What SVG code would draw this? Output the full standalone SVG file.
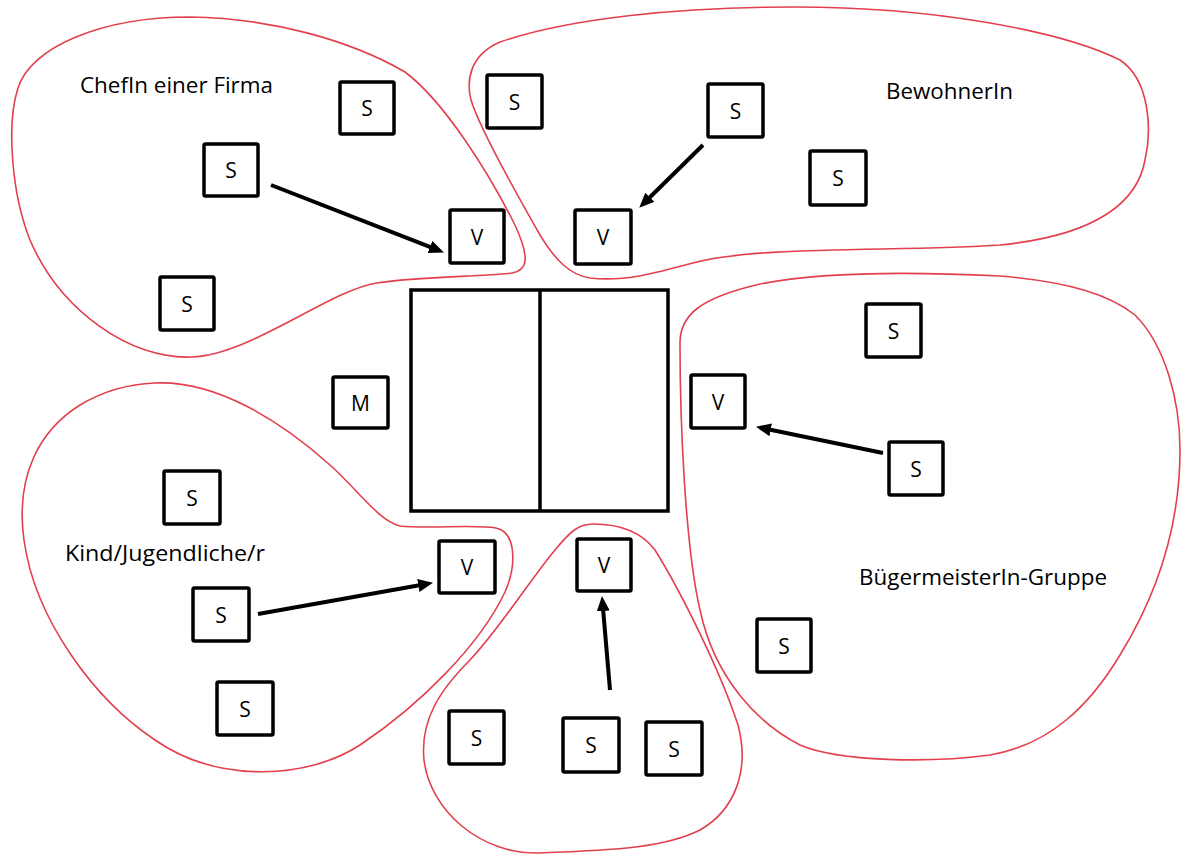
<svg xmlns="http://www.w3.org/2000/svg" width="1182" height="854" viewBox="0 0 1182 854">
<style>
.blob{fill:none;stroke:#e2404e;stroke-width:1.6}
.box{fill:#fff;stroke:#000;stroke-width:3.5}
.lbl{font-family:"Open Sans","Noto Sans","Liberation Sans",sans-serif;font-size:21.5px;fill:#000}
.bt{font-family:"Open Sans","Noto Sans","Liberation Sans",sans-serif;font-size:21px;fill:#000;text-anchor:middle;dominant-baseline:central}
.arr{stroke:#000;stroke-width:4;fill:none;marker-end:url(#ah)}
</style>
<defs>
<marker id="ah" markerUnits="userSpaceOnUse" markerWidth="16" markerHeight="14" refX="4" refY="6.5" orient="auto">
<path d="M0,0 L15,6.5 L0,13 z" fill="#000"/>
</marker>
</defs>
<rect width="1182" height="854" fill="#fff"/>
<g id="groups">
<g id="group-chef">
<path class="blob" d="M190,17 C270,18 350,40 405,72 C445,102 490,175 515,225 C530,258 528,270 512,273 C480,277 420,276 377,283 C330,290 250,355 192,357 C130,360 60,310 30,240 C12,195 6,125 18,88 C30,48 100,17 190,17 Z"/>
<text class="lbl" x="80" y="93" textLength="193" lengthAdjust="spacingAndGlyphs">ChefIn einer Firma</text>
</g>
<g id="group-bewohner">
<path class="blob" d="M795,7 C930,7 1060,30 1120,60 C1150,80 1152,130 1145,160 C1138,200 1100,235 1000,245 C900,252 760,245 693,263 C660,272 625,282 590,278 C570,275 555,260 540,235 C520,200 480,130 471,100 C466,80 470,55 500,42 C570,18 680,7 795,7 Z"/>
<text class="lbl" x="886" y="99" textLength="127" lengthAdjust="spacingAndGlyphs">BewohnerIn</text>
</g>
<g id="group-kind">
<path class="blob" d="M155,383 C215,380 280,420 330,465 C360,492 378,520 400,526 C430,529 475,524 496,528 C516,532 517,565 505,592 C480,645 420,705 360,745 C310,778 220,785 155,740 C95,700 35,620 24,540 C15,475 40,430 80,405 C105,390 130,384 155,383 Z"/>
<text class="lbl" x="65" y="561" textLength="200" lengthAdjust="spacingAndGlyphs">Kind/Jugendliche/r</text>
</g>
<g id="group-unten">
<path class="blob" d="M593,524 C615,524 640,530 655,550 C680,590 720,670 738,725 C750,770 735,810 700,830 C660,850 600,850 540,853 C480,855 430,810 424,760 C420,720 440,690 470,660 C500,628 530,580 555,550 C570,532 578,524 593,524 Z"/>
</g>
<g id="group-buergermeister">
<path class="blob" d="M680,345 C679,315 700,298 760,284 C820,272 900,271 1000,276 C1070,282 1110,295 1135,315 C1165,345 1180,400 1180,450 C1180,520 1160,590 1120,655 C1090,705 1050,745 990,755 C930,763 840,762 800,745 C760,725 715,680 700,610 C685,545 680,420 680,345 Z"/>
<text class="lbl" x="859" y="585" textLength="248" lengthAdjust="spacingAndGlyphs">BügermeisterIn-Gruppe</text>
</g>
</g>
<g id="table">
<rect x="411" y="290" width="257" height="221" fill="#fff" stroke="#000" stroke-width="3.5"/>
<line x1="540" y1="290" x2="540" y2="511" stroke="#000" stroke-width="3.5"/>
</g>
<g id="connectors">
<line class="arr" x1="271" y1="185" x2="433.7" y2="248.4"/>
<line class="arr" x1="703" y1="145" x2="647.1" y2="200"/>
<line class="arr" x1="258" y1="614" x2="422.2" y2="584.8"/>
<line class="arr" x1="610" y1="690" x2="602.9" y2="607"/>
<line class="arr" x1="883" y1="453" x2="766.8" y2="429"/>
</g>
<g id="n-chef-s1"><rect class="box" x="340" y="82" width="54" height="52" rx="1.5"/><text class="bt" x="367" y="108">S</text></g>
<g id="n-chef-s2"><rect class="box" x="204" y="144" width="54" height="52" rx="1.5"/><text class="bt" x="231" y="170">S</text></g>
<g id="n-chef-v"><rect class="box" x="450" y="210" width="54" height="53" rx="1.5"/><text class="bt" x="477" y="236.5">V</text></g>
<g id="n-chef-s3"><rect class="box" x="160" y="277" width="54" height="53" rx="1.5"/><text class="bt" x="187" y="303.5">S</text></g>
<g id="n-bew-s1"><rect class="box" x="487" y="75" width="55" height="53" rx="1.5"/><text class="bt" x="514.5" y="101.5">S</text></g>
<g id="n-bew-s2"><rect class="box" x="708" y="84" width="55" height="53" rx="1.5"/><text class="bt" x="735.5" y="110.5">S</text></g>
<g id="n-bew-s3"><rect class="box" x="810" y="151" width="56" height="54" rx="1.5"/><text class="bt" x="838" y="178">S</text></g>
<g id="n-bew-v"><rect class="box" x="575" y="210" width="56" height="54" rx="1.5"/><text class="bt" x="603" y="237">V</text></g>
<g id="n-m"><rect class="box" x="333" y="377" width="55" height="51" rx="1.5"/><text class="bt" x="360.5" y="402.5">M</text></g>
<g id="n-bgm-v"><rect class="box" x="691" y="375" width="54" height="53" rx="1.5"/><text class="bt" x="718" y="401.5">V</text></g>
<g id="n-bgm-s1"><rect class="box" x="866" y="304" width="55" height="53" rx="1.5"/><text class="bt" x="893.5" y="330.5">S</text></g>
<g id="n-bgm-s2"><rect class="box" x="889" y="442" width="54" height="53" rx="1.5"/><text class="bt" x="916" y="468.5">S</text></g>
<g id="n-bgm-s3"><rect class="box" x="757" y="619" width="54" height="53" rx="1.5"/><text class="bt" x="784" y="645.5">S</text></g>
<g id="n-kind-s1"><rect class="box" x="164" y="471" width="56" height="53" rx="1.5"/><text class="bt" x="192" y="497.5">S</text></g>
<g id="n-kind-s2"><rect class="box" x="193" y="588" width="56" height="53" rx="1.5"/><text class="bt" x="221" y="614.5">S</text></g>
<g id="n-kind-v"><rect class="box" x="439" y="541" width="56" height="52" rx="1.5"/><text class="bt" x="467" y="567">V</text></g>
<g id="n-kind-s3"><rect class="box" x="217" y="682" width="56" height="53" rx="1.5"/><text class="bt" x="245" y="708.5">S</text></g>
<g id="n-unten-v"><rect class="box" x="577" y="539" width="54" height="52" rx="1.5"/><text class="bt" x="604" y="565">V</text></g>
<g id="n-unten-s1"><rect class="box" x="449" y="711" width="55" height="53" rx="1.5"/><text class="bt" x="476.5" y="737.5">S</text></g>
<g id="n-unten-s2"><rect class="box" x="563" y="718" width="56" height="54" rx="1.5"/><text class="bt" x="591" y="745">S</text></g>
<g id="n-unten-s3"><rect class="box" x="646" y="722" width="56" height="53" rx="1.5"/><text class="bt" x="674" y="748.5">S</text></g>
</svg>
